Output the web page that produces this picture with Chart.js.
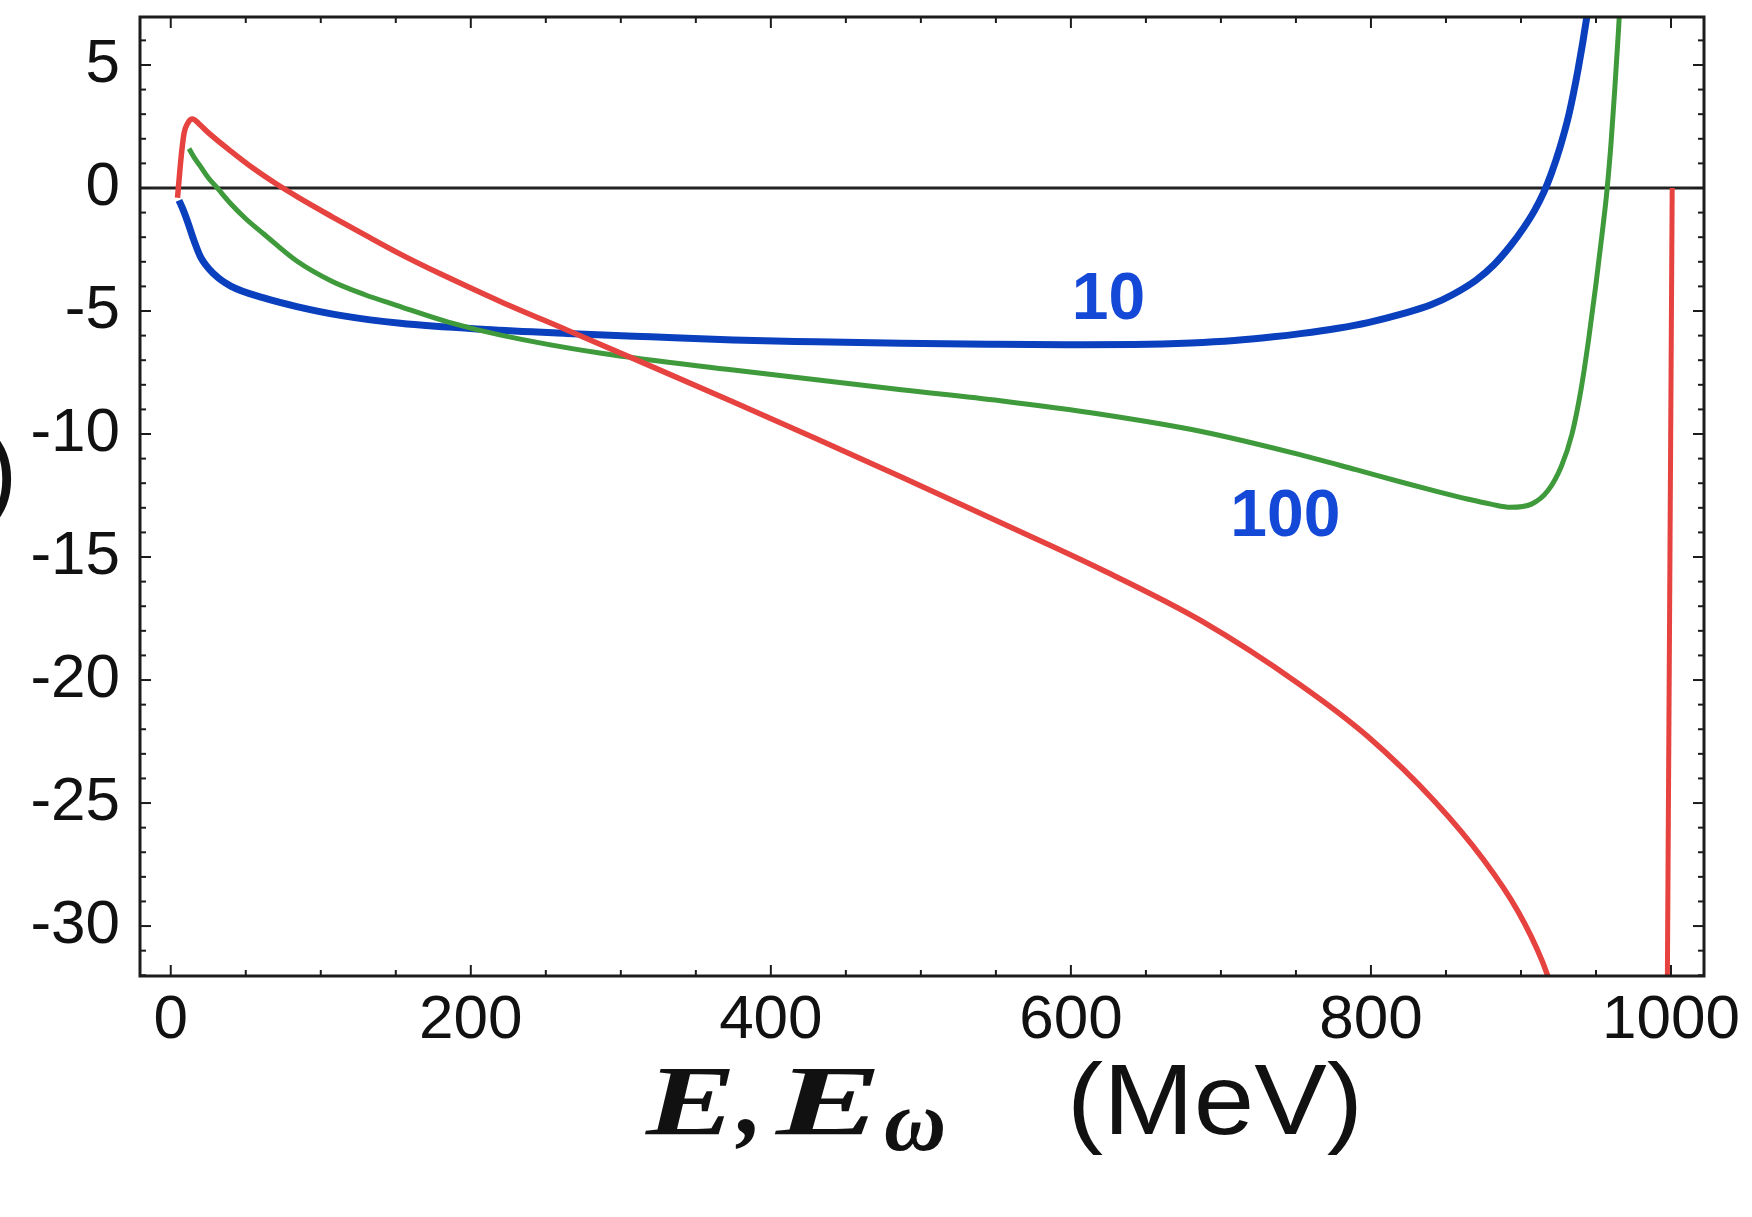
<!DOCTYPE html>
<html>
<head>
<meta charset="utf-8">
<title>E, Eω (MeV)</title>
<script src="https://cdn.jsdelivr.net/npm/chart.js@4.4.1/dist/chart.umd.min.js"></script>
<style>
    html, body { margin: 0; padding: 0; background: #fff; }
    #curveChart { display: block; }
</style>
</head>
<body>
<canvas id="curveChart" width="1752" height="1217"></canvas>
<script>
// axis ranges and tick labels
const E_MIN = -20.5;
const E_MAX = 1022;
const V_MIN = -32.03;
const V_MAX = 6.95;
const eTickLabels = [0, 200, 400, 600, 800, 1000];
const vTickLabels = [5, 0, -5, -10, -15, -20, -25, -30];

// curve "10" (blue)
const curve10E = [5.5, 8, 11, 15.5, 20, 29, 40, 62, 84, 115, 153, 210, 264, 320, 375, 430, 487, 545, 598, 642, 680, 709, 735, 753, 778, 798, 822, 840, 854, 870, 882, 893, 902, 909, 915, 920, 926, 932, 938, 944, 948];
const curve10V = [-0.5, -0.85, -1.33, -2.14, -2.82, -3.51, -3.99, -4.47, -4.82, -5.2, -5.5, -5.75, -5.91, -6.05, -6.18, -6.25, -6.31, -6.35, -6.37, -6.36, -6.3, -6.2, -6.05, -5.92, -5.7, -5.47, -5.1, -4.75, -4.35, -3.75, -3.12, -2.35, -1.6, -0.92, -0.2, 0.55, 1.65, 3.0, 4.8, 7.0, 8.8];

// curve "100" (green)
const curve100E = [12.2, 16, 20, 25, 31, 40, 50, 62, 84, 107, 129, 151, 185, 220, 287, 375, 487, 553, 620, 687, 750, 790, 820, 845, 865, 880, 893, 907, 918, 927, 934, 940, 945, 950, 954, 957, 960, 962.5, 965, 967];
const curve100V = [1.6, 1.2, 0.86, 0.42, 0, -0.64, -1.25, -1.87, -2.97, -3.78, -4.33, -4.78, -5.45, -5.98, -6.72, -7.4, -8.2, -8.65, -9.2, -9.9, -10.8, -11.45, -11.95, -12.35, -12.65, -12.85, -12.98, -12.85, -12.3, -11.3, -10.0, -8.2, -6.2, -3.9, -1.9, -0.3, 1.8, 4.0, 6.4, 8.6];

// red curve, main branch and the branch that drops at the end point
const curveRedE = [4.5, 5.5, 6.7, 8.9, 11.5, 14.4, 19, 25, 40, 55, 70, 85, 107, 130, 154, 180, 220, 264, 320, 375, 430, 487, 553, 620, 687, 753, 798, 842, 875, 898, 914, 925];
const curveRedV = [-0.4, 0.3, 1.13, 2.23, 2.65, 2.8, 2.6, 2.25, 1.5, 0.8, 0.18, -0.38, -1.15, -1.93, -2.72, -3.5, -4.62, -5.77, -7.24, -8.7, -10.18, -11.75, -13.6, -15.5, -17.6, -20.2, -22.3, -24.9, -27.3, -29.4, -31.4, -33.3];
const redEdgeE = [997.5, 1000.8];
const redEdgeV = [-33, 0];

const curveLabels = [
    { text: '10', e: 625, v: -4.6 },
    { text: '100', e: 743, v: -13.4 },
];

const pts = (xs, ys) => xs.map((x, i) => ({ x, y: ys[i] }));

const lineStyle = (color, width) => ({
    borderColor: color,
    borderWidth: width,
    pointRadius: 0,
    fill: false,
    cubicInterpolationMode: 'monotone',
    clip: 0,
});

const drawFitted = (ctx, text, x, y, width) => {
    const w = ctx.measureText(text).width;
    ctx.save();
    ctx.translate(x, y);
    ctx.scale(width / w, 1);
    ctx.fillText(text, 0, 0);
    ctx.restore();
};

// Mathematica-style frame: inward ticks on all four sides, plus labels
const framePlugin = {
    id: 'framePlugin',
    afterDraw(chart) {
        const { ctx, chartArea: a } = chart;
        const xs = chart.scales.x;
        const ys = chart.scales.y;
        ctx.save();
        ctx.strokeStyle = '#1c1c1c';
        ctx.lineCap = 'butt';

        const seg = (x1, y1, x2, y2) => {
            ctx.beginPath();
            ctx.moveTo(x1, y1);
            ctx.lineTo(x2, y2);
            ctx.stroke();
        };

        ctx.lineWidth = 2;
        for (let e = 0; e <= 1000; e += 50) {
            const px = xs.getPixelForValue(e);
            const len = eTickLabels.includes(e) ? 11 : 6;
            seg(px, a.bottom, px, a.bottom - len);
            seg(px, a.top, px, a.top + len);
        }
        for (let v = -32; v <= 6; v += 1) {
            const py = ys.getPixelForValue(v);
            const len = vTickLabels.includes(v) ? 11 : 6;
            seg(a.left, py, a.left + len, py);
            seg(a.right, py, a.right - len, py);
        }

        ctx.lineWidth = 3;
        ctx.strokeRect(a.left, a.top, a.right - a.left, a.bottom - a.top);

        // hand-written curve labels
        ctx.fillStyle = '#1448d6';
        ctx.font = 'bold 66px "Liberation Sans"';
        ctx.textAlign = 'center';
        ctx.textBaseline = 'middle';
        curveLabels.forEach(l => {
            ctx.fillText(l.text, xs.getPixelForValue(l.e), ys.getPixelForValue(l.v));
        });

        // axis title  E, E_ω  (MeV)
        const base = a.bottom + 158;
        ctx.fillStyle = '#111';
        ctx.textAlign = 'left';
        ctx.textBaseline = 'alphabetic';
        ctx.font = 'italic bold 100px "Liberation Serif"';
        drawFitted(ctx, 'E', 646, base, 90);
        ctx.fillText(',', 738, base);
        drawFitted(ctx, 'E', 776, base, 106);
        ctx.font = 'italic bold 86px "Liberation Serif"';
        ctx.fillText('ω', 884, base + 16);
        ctx.font = '100px "Liberation Sans"';
        drawFitted(ctx, '(MeV)', 1067, base, 296);

        // tail of the vertical axis title, cut by the left edge
        ctx.font = '100px "Liberation Sans"';
        ctx.fillText(')', -16, a.top + 488);
        ctx.restore();
    },
};

const canvas = document.getElementById('curveChart');

new Chart(canvas, {
    type: 'line',
    data: {
        datasets: [
            { label: 'red', data: pts(curveRedE, curveRedV), ...lineStyle('#e6423f', 5.5) },
            { label: 'red edge', data: pts(redEdgeE, redEdgeV), ...lineStyle('#e6423f', 5) },
            { label: '100', data: pts(curve100E, curve100V), ...lineStyle('#3f9a3c', 5) },
            { label: '10', data: pts(curve10E, curve10V), ...lineStyle('#0a3fbe', 7) },
            { label: 'zero', data: pts([E_MIN, E_MAX], [0, 0]), ...lineStyle('#222222', 3) },
        ],
    },
    options: {
        responsive: false,
        animation: false,
        devicePixelRatio: 1,
        layout: { padding: { top: 17, right: 48, left: 0, bottom: 0 } },
        plugins: {
            legend: { display: false },
            tooltip: { enabled: false },
        },
        scales: {
            x: {
                type: 'linear',
                min: E_MIN,
                max: E_MAX,
                afterBuildTicks: s => { s.ticks = eTickLabels.map(v => ({ value: v })); },
                afterFit: s => {
                    s.height = 241;
                    s.paddingLeft = 0;
                    s.paddingRight = 0;
                },
                ticks: {
                    color: '#111',
                    font: { family: 'Liberation Sans', size: 62 },
                    padding: 8,
                    maxRotation: 0,
                    autoSkip: false,
                    callback: v => String(v),
                },
                grid: { display: false, drawTicks: false },
                border: { display: false },
            },
            y: {
                type: 'linear',
                min: V_MIN,
                max: V_MAX,
                afterBuildTicks: s => { s.ticks = vTickLabels.map(v => ({ value: v })); },
                afterFit: s => {
                    s.width = 140;
                    s.paddingTop = 0;
                    s.paddingBottom = 0;
                },
                ticks: {
                    color: '#111',
                    font: { family: 'Liberation Sans', size: 62 },
                    padding: 20,
                    autoSkip: false,
                    callback: v => String(v),
                },
                grid: { display: false, drawTicks: false },
                border: { display: false },
            },
        },
    },
    plugins: [framePlugin],
});
</script>
</body>
</html>
